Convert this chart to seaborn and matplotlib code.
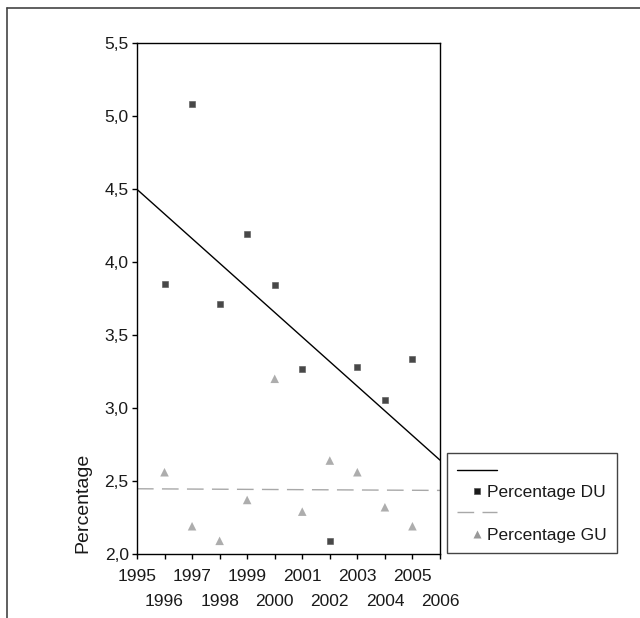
import matplotlib
matplotlib.use("Agg")
import matplotlib.pyplot as plt
from matplotlib.lines import Line2D
import seaborn as sns
import pandas as pd

years = [1996, 1997, 1998, 1999, 2000, 2001, 2002, 2003, 2004, 2005]
pct_du = [3.85, 5.08, 3.71, 4.19, 3.845, 3.267, 2.089, 3.279, 3.057, 3.336]
pct_gu = [2.56, 2.19, 2.09, 2.37, 3.20, 2.29, 2.64, 2.56, 2.32, 2.19]
x_ticks_top = [1995, 1997, 1999, 2001, 2003, 2005]
x_ticks_bottom = [1996, 1998, 2000, 2002, 2004, 2006]
x_labels_top = ["1995", "1997", "1999", "2001", "2003", "2005"]
x_labels_bottom = ["1996", "1998", "2000", "2002", "2004", "2006"]
y_ticks = [2.0, 2.5, 3.0, 3.5, 4.0, 4.5, 5.0, 5.5]
y_tick_labels = ["2,0", "2,5", "3,0", "3,5", "4,0", "4,5", "5,0", "5,5"]
label_du = "Percentage DU"
label_gu = "Percentage GU"
y_label = "Percentage"

df = pd.DataFrame({"year": years, "du": pct_du, "gu": pct_gu})

sns.set_style("white")
plt.rcParams["font.family"] = ["Liberation Sans", "DejaVu Sans"]

fig = plt.figure(figsize=(6.4, 6.18), dpi=100)
ax = fig.add_axes([0.214, 0.1036, 0.4735, 0.8268])
ax.set_xlim(1995, 2006)
ax.set_ylim(2.0, 5.5)

gray = "#999999"
sns.regplot(data=df, x="year", y="du", ax=ax, ci=None, truncate=False,
            marker="s", color="black",
            scatter_kws={"s": 20, "color": "#1a1a1a", "edgecolor": "#555555", "linewidths": 0.5},
            line_kws={"color": "black", "lw": 1.0})
sns.regplot(data=df, x="year", y="gu", ax=ax, ci=None, truncate=False,
            marker="^", color=gray,
            scatter_kws={"s": 38, "color": gray, "edgecolor": "none"},
            line_kws={"color": "#a8a8a8", "lw": 1.0, "dashes": (12, 6)})

ax.set_xlim(1995, 2006)
ax.set_ylim(2.0, 5.5)
ax.set_xticks(x_ticks_top)
ax.set_xticklabels(x_labels_top, fontsize=12.5, color="#1a1a1a")
ax.set_xticks(x_ticks_bottom, minor=True)
ax.set_xticklabels(x_labels_bottom, minor=True, fontsize=12.5, color="#1a1a1a")
ax.set_yticks(y_ticks)
ax.set_yticklabels(y_tick_labels, fontsize=12.5, color="#1a1a1a")
ax.set_xlabel("")
ax.set_ylabel(y_label, fontsize=14, color="#1a1a1a")
ax.yaxis.set_label_coords(-0.15, 0.10)
ax.tick_params(axis="x", which="major", direction="out", length=3.5, width=1,
               color="black", bottom=True, pad=7)
ax.tick_params(axis="x", which="minor", direction="out", length=3.5, width=1,
               color="black", bottom=True, pad=25)
ax.tick_params(axis="y", which="major", direction="out", length=3.5, width=1,
               color="black", left=True, pad=2.5)
for s in ax.spines.values():
    s.set_visible(True)
    s.set_color("black")
    s.set_linewidth(1.0)

handles = [
    Line2D([], [], color="black", lw=1.0),
    Line2D([], [], ls="none", marker="s", markersize=4.3, color="#1a1a1a",
           markeredgecolor="#555555", markeredgewidth=0.5),
    Line2D([], [], color="#a8a8a8", lw=1.0, dashes=(12, 6)),
    Line2D([], [], ls="none", marker="^", markersize=6, color=gray,
           markeredgecolor="none"),
]
labels = ["", label_du, "", label_gu]
leg = fig.legend(handles, labels, loc="lower left", bbox_to_anchor=(0.698, 0.105),
                 fontsize=12.5, frameon=True, fancybox=False, framealpha=1,
                 edgecolor="#444444", handlelength=2.3, handletextpad=-0.6,
                 labelspacing=0.35, borderpad=0.6, borderaxespad=0)
leg.get_frame().set_linewidth(1.0)
for t in leg.get_texts():
    t.set_color("#1a1a1a")

fig.add_artist(Line2D([0.0109, 1.0], [1 - 8 / 618, 1 - 8 / 618], color="#444444",
                      lw=1.2, transform=fig.transFigure))
fig.add_artist(Line2D([0.0109, 0.0109], [0.0, 1 - 8 / 618], color="#444444",
                      lw=1.2, transform=fig.transFigure))

fig.savefig("out.png", dpi=100)
